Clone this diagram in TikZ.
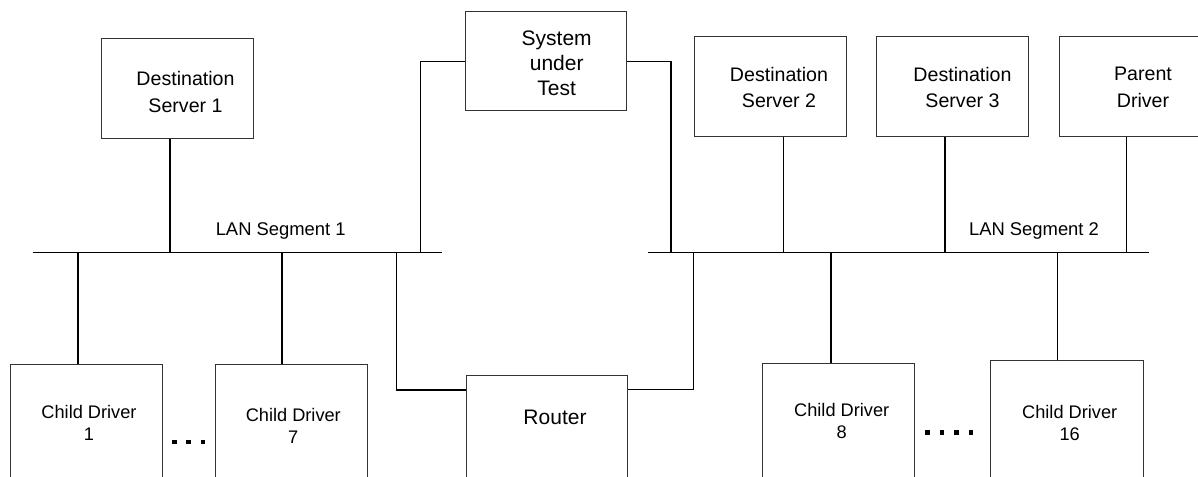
\documentclass[tikz,border=0pt]{standalone}
\usepackage{fontspec}
\setmainfont{Liberation Sans}
\usetikzlibrary{fit}
\begin{document}
\begin{tikzpicture}[x=0.5pt,y=-0.5pt,
  box/.style={draw=black!80, line width=0.5pt, inner sep=0pt},
  lbl/.style={align=center, inner sep=0pt, text depth=0pt},
  wire/.style={line width=0.65pt, black},
  dotsq/.style={fill=black, inner sep=0pt, minimum size=2.3pt},
  fa/.style={font=\fontsize{9.8}{13.3}\selectfont},
  fb/.style={font=\fontsize{10.5}{12.5}\selectfont},
  fc/.style={font=\fontsize{9.1}{11}\selectfont},
  fd/.style={font=\fontsize{9.2}{11}\selectfont}]
\useasboundingbox (0,0) rectangle (1198,476);
\clip (0,0) rectangle (1198,476);
% boxes
\node[box, fit={(101,38.3) (253.3,138)}] (ds1) {};
\node[box, fit={(465.7,11.7) (626.7,111)}] (sut) {};
\node[box, fit={(694.3,36.7) (846,136.3)}] (ds2) {};
\node[box, fit={(876.7,36.3) (1028.7,136.3)}] (ds3) {};
\node[box, fit={(1059,36.7) (1215,136.3)}] (pd) {};
\node[box, fit={(10.3,364) (162.3,495)}] (c1) {};
\node[box, fit={(215,364.7) (367.7,495)}] (c7) {};
\node[box, fit={(466,375.7) (627.7,495)}] (rt) {};
\node[box, fit={(762.7,363.3) (914.7,495)}] (c8) {};
\node[box, fit={(990.7,360.7) (1143,495)}] (c16) {};
% texts
\node[lbl, fa] (tds1) at (185.5,92) {Destination\\Server 1};
\node[lbl, fb] (tsut) at (556.7,63.2) {System\\under\\Test};
\node[lbl, fa] (tds2) at (779,87.3) {Destination\\Server 2};
\node[lbl, fa] (tds3) at (962.5,87.3) {Destination\\Server 3};
\node[lbl, fa] (tpd) at (1143,87.5) {Parent\\Driver};
\node[lbl, fd] (tl1) at (280.7,228.8) {LAN Segment 1};
\node[lbl, fd] (tl2) at (1034,228.8) {LAN Segment 2};
\node[lbl, fc] (tc1) at (89,422.5) {Child Driver\\1};
\node[lbl, fc] (tc7) at (293.3,425.5) {Child Driver\\7};
\node[lbl, fb] (trt) at (555,417.7) {Router};
\node[lbl, fc] (tc8) at (841.7,421) {Child Driver\\8};
\node[lbl, fc] (tc16) at (1069.7,423.3) {Child Driver\\16};
% buses
\coordinate (b1w) at (32.7,252.7);
\coordinate (b1e) at (441.7,252.7);
\coordinate (b2w) at (648.3,252.7);
\coordinate (b2e) at (1149,252.7);
\draw[wire] (b1w) -- (b1e);
\draw[wire] (b2w) -- (b2e);
% drops
\draw[wire] (170,0 |- ds1.south) -- (170,0 |- b1w);
\draw[wire] (783.3,0 |- ds2.south) -- (783.3,0 |- b2w);
\draw[wire] (945,0 |- ds3.south) -- (945,0 |- b2w);
\draw[wire] (1126.3,0 |- pd.south) -- (1126.3,0 |- b2w);
\draw[wire] (78,0 |- c1.north) -- (78,0 |- b1w);
\draw[wire] (282,0 |- c7.north) -- (282,0 |- b1w);
\draw[wire] (831,0 |- c8.north) -- (831,0 |- b2w);
\draw[wire] (1057.3,0 |- c16.north) -- (1057.3,0 |- b2w);
% SUT and router links
\draw[wire] (sut.west) -| (420.7,0 |- b1w);
\draw[wire] (sut.east) -| (671,0 |- b2w);
\draw[wire] (rt.west |- 0,390) -| (396.7,0 |- b1w);
\draw[wire] (rt.east |- 0,389.3) -| (693.3,0 |- b2w);
% ellipsis dots
\node[dotsq] (da1) at (174.5,442) {};
\node[dotsq] (da2) at (188.7,442) {};
\node[dotsq] (da3) at (203,442) {};
\node[dotsq] (db1) at (927.3,432.7) {};
\node[dotsq] (db2) at (942,432.7) {};
\node[dotsq] (db3) at (956.5,432.7) {};
\node[dotsq] (db4) at (971,432.7) {};
\end{tikzpicture}
\end{document}
